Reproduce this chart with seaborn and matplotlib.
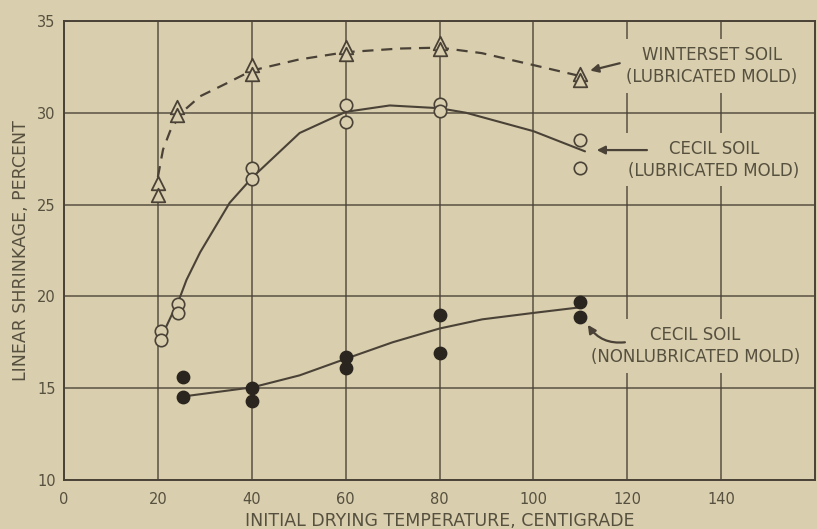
import pandas as pd
import matplotlib
matplotlib.use("Agg")
import matplotlib.pyplot as plt
import seaborn as sns

# ─── Datos ───────────────────────────────────────────────────────────────────
# Winterset soil (molde lubricado) — triángulos abiertos
winterset_x = [20, 20, 24, 24, 40, 40, 60, 60, 80, 80, 110, 110]
winterset_y = [26.2, 25.5, 30.3, 29.9, 32.6, 32.1, 33.6, 33.2, 33.8, 33.5, 32.1, 31.8]

# Cecil soil (molde lubricado) — círculos abiertos
cecil_lub_x = [20.6, 20.6, 24.3, 24.3, 40, 40, 60, 60, 80, 80, 110, 110]
cecil_lub_y = [18.1, 17.6, 19.6, 19.1, 27.0, 26.4, 30.4, 29.5, 30.5, 30.1, 28.5, 27.0]

# Cecil soil (molde sin lubricar) — círculos llenos
cecil_nolub_x = [25.4, 25.4, 40, 40, 60, 60, 80, 80, 110, 110]
cecil_nolub_y = [15.6, 14.5, 15.0, 14.3, 16.7, 16.1, 19.0, 16.9, 19.7, 18.9]

# Curvas dibujadas a mano (puntos leídos sobre cada curva)
winterset_curve_x = [20, 21.1, 22.6, 25, 29, 34.6, 40, 50, 60, 71.5, 80, 89, 100, 110]
winterset_curve_y = [26.5, 28.0, 29.0, 30.0, 30.9, 31.6, 32.3, 32.9, 33.3, 33.5, 33.55, 33.25, 32.6, 32.0]

cecil_lub_curve_x = [20.6, 21.5, 24.7, 26.1, 29, 35.3, 40.2, 50.2, 60, 69.4, 80, 85.7, 100, 111]
cecil_lub_curve_y = [17.9, 18.2, 19.95, 20.9, 22.4, 25.1, 26.5, 28.9, 30.05, 30.4, 30.25, 30.0, 29.0, 27.9]

cecil_nolub_curve_x = [25.4, 40.2, 50.2, 60, 70, 80, 89.1, 100, 109.8]
cecil_nolub_curve_y = [14.55, 15.05, 15.7, 16.6, 17.5, 18.25, 18.75, 19.1, 19.4]

x_ticks = [0, 20, 40, 60, 80, 100, 120, 140]
y_ticks = [10, 15, 20, 25, 30, 35]

# ─── Estilo ──────────────────────────────────────────────────────────────────
fondo = "#D9CEAE"
tinta = "#4A4236"
texto = "#56503F"

sns.set_style("whitegrid", {
    "axes.facecolor": fondo,
    "figure.facecolor": fondo,
    "grid.color": tinta,
    "axes.edgecolor": tinta,
})
plt.rcParams["font.family"] = ["DejaVu Sans"]

fig = plt.figure(figsize=(8.17, 5.29), dpi=100)
ax = fig.add_axes([64 / 817, 49 / 529, 751 / 817, 459 / 529])

df_w = pd.DataFrame({"x": winterset_x, "y": winterset_y})
df_cl = pd.DataFrame({"x": cecil_lub_x, "y": cecil_lub_y})
df_cn = pd.DataFrame({"x": cecil_nolub_x, "y": cecil_nolub_y})

# Curvas
sns.lineplot(x=winterset_curve_x, y=winterset_curve_y, ax=ax, color=tinta,
             lw=1.6, sort=False, linestyle=(0, (5, 3.5)))
sns.lineplot(x=cecil_lub_curve_x, y=cecil_lub_curve_y, ax=ax, color=tinta,
             lw=1.5, sort=False)
sns.lineplot(x=cecil_nolub_curve_x, y=cecil_nolub_curve_y, ax=ax, color=tinta,
             lw=1.5, sort=False)

# Puntos
sns.scatterplot(data=df_w, x="x", y="y", ax=ax, marker="^", s=95,
                facecolor=fondo, edgecolor=tinta, linewidth=1.3, zorder=5)
sns.scatterplot(data=df_cl, x="x", y="y", ax=ax, marker="o", s=80,
                facecolor=fondo, edgecolor=tinta, linewidth=1.2, zorder=5)
sns.scatterplot(data=df_cn, x="x", y="y", ax=ax, marker="o", s=80,
                facecolor="#2A251E", edgecolor="#2A251E", linewidth=1, zorder=5)

# ─── Ejes ────────────────────────────────────────────────────────────────────
ax.set_xlim(0, 160)
ax.set_ylim(10, 35)
ax.set_xticks(x_ticks)
ax.set_yticks(y_ticks)
ax.tick_params(length=0, labelsize=10.5, labelcolor=texto)
ax.tick_params(axis="x", pad=9)
ax.tick_params(axis="y", pad=6)
ax.grid(True, color=tinta, lw=1.1, alpha=0.9)
for s in ax.spines.values():
    s.set_color(tinta)
    s.set_linewidth(1.4)

ax.set_xlabel("INITIAL DRYING TEMPERATURE, CENTIGRADE", fontsize=12.5,
              color=texto, labelpad=3)
ax.set_ylabel("LINEAR SHRINKAGE, PERCENT", fontsize=12.5, color=texto,
              labelpad=5)

# ─── Anotaciones ─────────────────────────────────────────────────────────────
caja = dict(boxstyle="square,pad=0.4", facecolor=fondo, edgecolor="none")
flecha = dict(arrowstyle="-|>", color=tinta, lw=1.6, mutation_scale=12,
              shrinkA=0, shrinkB=0)

ax.text(138, 32.55, "WINTERSET SOIL\n(LUBRICATED MOLD)", ha="center",
        va="center", fontsize=12, color=texto, linespacing=1.3, bbox=caja)
ax.text(138.5, 27.45, "CECIL SOIL\n(LUBRICATED MOLD)", ha="center",
        va="center", fontsize=12, color=texto, linespacing=1.3, bbox=caja)
ax.text(134.5, 17.3, "CECIL SOIL\n(NONLUBRICATED MOLD)", ha="center",
        va="center", fontsize=12, color=texto, linespacing=1.3, bbox=caja)

ax.annotate("", xy=(112.1, 32.3), xytext=(118.4, 32.7), arrowprops=flecha)
ax.annotate("", xy=(113.5, 27.97), xytext=(124.2, 27.97), arrowprops=flecha)
ax.annotate("", xy=(111.6, 18.45), xytext=(119.5, 17.5),
            arrowprops=dict(flecha, connectionstyle="arc3,rad=-0.3"))

plt.savefig("out.png", dpi=100, facecolor=fondo)
